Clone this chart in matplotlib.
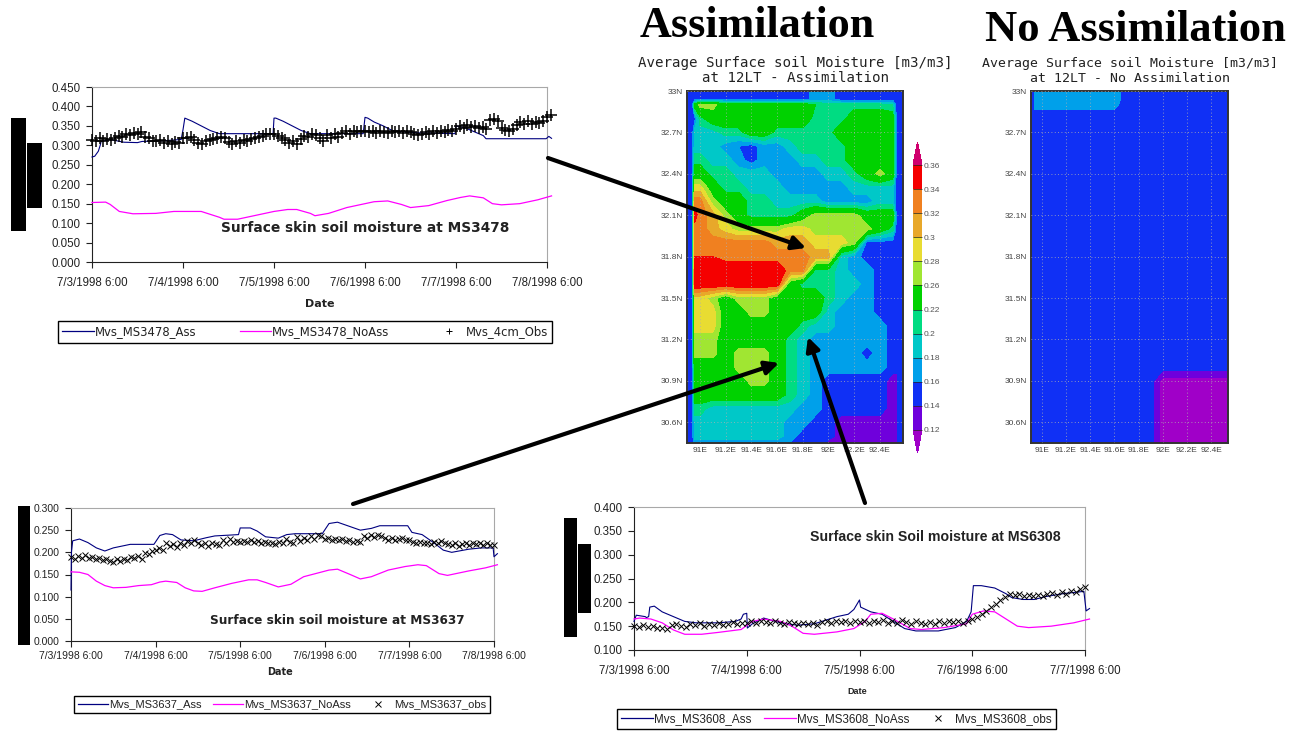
# -*- coding: utf-8 -*-

import numpy as np
import matplotlib
matplotlib.use("Agg")
import matplotlib.pyplot as plt
from matplotlib.colors import ListedColormap, BoundaryNorm
from matplotlib.lines import Line2D
from matplotlib.patches import Rectangle

plt.rcParams["font.family"] = ["Liberation Sans", "DejaVu Sans"]

W = 1291
H = 733

# line charts ------------------------------------------------------------------
date_labels = ["7/3/1998 6:00", "7/4/1998 6:00", "7/5/1998 6:00",
               "7/6/1998 6:00", "7/7/1998 6:00", "7/8/1998 6:00"]

ms3478_ass_day = [0, .03, .07, .09, .1, .2, .35, .5, .55, .8, .98, 1.0, 1.02, 1.1, 1.2, 1.3, 1.4, 1.8, 1.99,
                  2.0, 2.02, 2.1, 2.2, 2.3, 2.4, 2.98, 3.0, 3.03, 3.1, 3.2, 3.3, 3.4, 3.6, 3.99, 4.0, 4.1,
                  4.2, 4.3, 4.33, 4.99, 5.02, 5.05]
ms3478_ass = [.27, .272, .285, .30, .31, .315, .308, .307, .31, .312, .315, .34, .37, .362, .35, .338, .33, .33, .33,
              .37, .37, .362, .35, .338, .33, .33, .372, .37, .36, .35, .338, .335, .332, .33, .35, .345,
              .335, .325, .317, .317, .323, .318]
ms3478_noass_day = [0, .15, .2, .3, .45, .7, .9, 1.2, 1.4, 1.45, 1.6, 1.8, 2.0, 2.15, 2.25, 2.4, 2.45, 2.6, 2.8, 3.0,
                    3.1, 3.25, 3.4, 3.5, 3.7, 3.9, 4.05, 4.15, 4.3, 4.4, 4.5, 4.7, 4.9, 5.05]
ms3478_noass = [.153, .154, .148, .13, .124, .125, .13, .13, .115, .11, .11, .12, .13, .135, .135, .125, .119, .125,
                .14, .15, .155, .157, .148, .14, .145, .158, .166, .17, .165, .15, .147, .15, .16, .17]
ms3478_obs = [.315, .312, .318, .310, .316, .313, .320, .324, .322, .330, .326, .332,
              .328, .335, .322, .318, .312, .310, .314, .306, .310, .304, .309, .306,
              .320, .318, .322, .315, .305, .303, .310, .313, .316, .319, .322, .318,
              .308, .303, .310, .306, .313, .310, .316, .318, .321, .325, .328, .330,
              .330, .325, .318, .313, .306, .310, .304, .316, .325, .322, .330, .326,
              .320, .312, .326, .318, .330, .322, .332, .336, .330, .338, .334, .336,
              .338, .334, .336, .332, .338, .335, .332, .337, .334, .336, .333, .337,
              .335, .330, .326, .330, .334, .328, .336, .332, .338, .334, .340, .336,
              .342, .350, .345, .352, .346, .350, .344, .348, .342, .365, .368, .362,
              .345, .340, .336, .342, .352, .360, .356, .362, .356, .360, .358, .362,
              .372, .378]

ms3637_ass_day = [0, .005, .02, .1, .2, .3, .4, .5, .7, .98, 1.05, 1.12, 1.2, 1.3, 1.45, 1.6, 1.7, 1.98, 2.0, 2.12,
                  2.2, 2.3, 2.45, 2.55, 2.65, 2.97, 3.05, 3.15, 3.3, 3.42, 3.55, 3.65, 3.98, 4.03, 4.15, 4.3,
                  4.4, 4.5, 4.7, 4.85, 4.99, 5.0, 5.04]
ms3637_ass = [.115, .20, .226, .23, .222, .21, .203, .21, .218, .218, .238, .242, .24, .228, .226, .233, .237, .24,
              .255, .255, .248, .235, .232, .24, .242, .242, .265, .268, .258, .25, .254, .26, .26, .245, .24,
              .22, .205, .2, .207, .21, .21, .19, .197]
ms3637_noass_day = [0, .1, .2, .3, .4, .5, .65, .8, .95, 1.05, 1.12, 1.25, 1.35, 1.45, 1.55, 1.7, 1.9, 2.1, 2.2, 2.3,
                    2.45, 2.6, 2.75, 2.95, 3.05, 3.15, 3.3, 3.42, 3.55, 3.75, 3.95, 4.1, 4.2, 4.35, 4.45, 4.7,
                    4.9, 5.04]
ms3637_noass = [.156, .155, .15, .135, .125, .12, .121, .125, .127, .133, .135, .132, .12, .113, .112, .12, .13, .138,
                .138, .132, .122, .128, .145, .155, .16, .162, .15, .14, .145, .16, .168, .172, .17, .152, .148,
                .158, .165, .172]
ms3637_obs = [.190, .186, .192, .188, .193, .187, .190, .185, .188, .183, .186, .180,
              .178, .185, .180, .186, .183, .190, .188, .192, .186, .198, .196, .203,
              .206, .210, .205, .222, .215, .218, .212, .220, .216, .225, .220, .228,
              .222, .216, .222, .214, .220, .218, .216, .228, .222, .230, .224, .226,
              .224, .226, .223, .228, .224, .226, .222, .224, .220, .222, .218, .224,
              .220, .230, .224, .222, .234, .226, .232, .228, .236, .230, .238, .236,
              .230, .232, .228, .230, .227, .230, .225, .228, .224, .226, .224, .236,
              .232, .240, .234, .240, .236, .232, .228, .232, .228, .231, .233, .228,
              .228, .224, .220, .224, .220, .222, .218, .224, .220, .226, .220, .218,
              .216, .220, .215, .218, .222, .216, .220, .218, .222, .216, .220, .217,
              .216]

ms3608_ass_day = [0, .02, .1, .11, .13, .14, .18, .25, .35, .45, .55, .75, .9, .95, .97, 1.0, 1.005, 1.05, 1.15, 1.3,
                  1.45, 1.6, 1.8, 1.9, 1.95, 2.0, 2.01, 2.1, 2.2, 2.3, 2.4, 2.5, 2.7, 2.85, 2.95, 2.99, 3.01,
                  3.08, 3.2, 3.3, 3.35, 3.45, 3.55, 3.65, 3.8, 3.99, 4.01, 4.04]
ms3608_ass = [.16, .173, .17, .168, .17, .19, .192, .18, .17, .16, .157, .157, .16, .165, .175, .177, .146, .155,
              .167, .157, .152, .155, .17, .175, .185, .205, .19, .18, .175, .16, .145, .14, .14, .147, .16, .18,
              .235, .235, .23, .218, .21, .206, .206, .212, .218, .223, .182, .187]
ms3608_noass_day = [0, .05, .15, .25, .35, .45, .6, .75, .95, 1.05, 1.15, 1.3, 1.4, 1.5, 1.6, 1.8, 1.95, 2.05, 2.1,
                    2.2, 2.3, 2.45, 2.55, 2.75, 2.95, 3.0, 3.1, 3.2, 3.3, 3.4, 3.5, 3.7, 3.9, 4.04]
ms3608_noass = [.165, .167, .165, .157, .142, .133, .133, .137, .143, .16, .165, .16, .15, .135, .133, .138, .145,
                .16, .175, .177, .165, .145, .143, .147, .155, .175, .182, .18, .165, .15, .147, .15, .157, .165]
ms3608_obs = [.150, .148, .152, .148, .150, .147, .146, .144, .152, .155, .150, .148,
              .155, .152, .156, .150, .154, .152, .156, .152, .155, .158, .154, .157,
              .156, .160, .157, .160, .158, .156, .160, .157, .155, .158, .156, .154,
              .157, .154, .156, .153, .158, .160, .157, .161, .158, .160, .156, .160,
              .158, .161, .157, .160, .158, .162, .157, .160, .156, .162, .158, .155,
              .160, .156, .154, .158, .155, .160, .157, .161, .158, .160, .156, .160,
              .165, .170, .175, .182, .190, .197, .205, .212, .218, .216, .218, .214,
              .216, .213, .216, .214, .218, .220, .216, .222, .218, .224, .222, .228,
              .232]

# maps, moisture in 1/100 m3/m3 -------------------------------------------------
map_lon = [90.94, 90.96, 91.0, 91.1, 91.2, 91.3, 91.4, 91.5, 91.6, 91.7, 91.8, 91.9, 92.0, 92.1, 92.2, 92.3, 92.4,
           92.5, 92.53]
map_lat = [33.0, 32.94, 32.9, 32.8, 32.7, 32.6, 32.5, 32.4, 32.3, 32.2, 32.1, 32.0, 31.9, 31.8, 31.7,
           31.6, 31.5, 31.4, 31.3, 31.2, 31.1, 31.0, 30.9, 30.8, 30.7, 30.6, 30.5, 30.4]
assim = [
    [15, 15, 15, 15, 15, 15, 15, 15, 15, 15, 15, 17, 17, 15, 15, 15, 15, 15, 15],
    [15, 15, 15, 15, 15, 15, 15, 15, 15, 15, 15, 17, 17, 15, 15, 15, 15, 15, 15],
    [15, 24, 27, 27, 24, 24, 24, 24, 24, 24, 24, 22, 21, 21, 21, 21, 21, 20, 15],
    [15, 15, 21, 24, 24, 24, 24, 24, 24, 24, 24, 21, 21, 21, 24, 24, 24, 24, 15],
    [15, 19, 19, 19, 21, 21, 24, 24, 21, 21, 21, 21, 21, 24, 24, 24, 24, 24, 15],
    [15, 19, 19, 19, 17, 16, 15, 17, 17, 19, 21, 21, 21, 21, 24, 24, 24, 24, 15],
    [15, 21, 21, 19, 19, 17, 15, 17, 17, 17, 19, 19, 21, 21, 24, 24, 24, 24, 15],
    [15, 24, 24, 21, 21, 19, 19, 19, 17, 17, 17, 17, 19, 19, 21, 24, 27, 24, 15],
    [15, 29, 29, 24, 21, 21, 19, 19, 19, 17, 17, 17, 17, 17, 19, 19, 19, 19, 15],
    [15, 33, 33, 27, 24, 24, 21, 21, 19, 19, 19, 19, 17, 17, 17, 17, 19, 19, 15],
    [15, 35, 33, 31, 27, 24, 21, 21, 21, 21, 24, 27, 27, 27, 27, 24, 24, 24, 15],
    [15, 33, 33, 31, 29, 27, 27, 27, 27, 29, 29, 27, 27, 27, 27, 27, 24, 21, 15],
    [15, 34, 33, 33, 33, 33, 33, 33, 31, 31, 31, 29, 29, 29, 27, 15, 15, 15, 15],
    [15, 34, 34, 34, 33, 33, 33, 33, 33, 33, 33, 31, 31, 19, 17, 15, 15, 15, 15],
    [15, 35.9, 35.9, 35.9, 35.9, 35.9, 35.9, 35.9, 35.9, 33, 33, 21, 21, 19, 17, 17, 15, 15, 15],
    [15, 35.9, 35.9, 35.9, 35.9, 35.9, 35.9, 35.9, 35.9, 24, 21, 21, 21, 19, 19, 17, 15, 15, 15],
    [15, 29, 29, 27, 24, 27, 27, 27, 24, 24, 24, 24, 21, 19, 17, 17, 15, 15, 15],
    [15, 29, 29, 29, 24, 24, 27, 27, 24, 24, 24, 24, 19, 17, 17, 17, 15, 15, 15],
    [15, 29, 29, 29, 24, 24, 24, 24, 24, 24, 21, 19, 19, 17, 17, 17, 17, 15, 15],
    [15, 27, 27, 27, 24, 24, 24, 24, 24, 21, 19, 17, 17, 17, 17, 17, 17, 15, 15],
    [15, 27, 27, 27, 24, 27, 27, 27, 24, 21, 19, 17, 17, 17, 17, 15, 17, 15, 15],
    [15, 24, 24, 24, 24, 27, 27, 27, 24, 21, 19, 17, 17, 17, 17, 17, 17, 15, 15],
    [15, 24, 24, 24, 24, 24, 27, 27, 24, 21, 19, 17, 15, 15, 15, 15, 15, 13, 13],
    [15, 24, 24, 24, 24, 24, 24, 24, 24, 21, 19, 17, 15, 15, 15, 15, 15, 13, 13],
    [15, 21, 21, 19, 19, 19, 19, 19, 19, 19, 17, 17, 15, 15, 15, 15, 15, 13, 13],
    [15, 19, 19, 19, 19, 19, 19, 19, 19, 17, 17, 15, 15, 13, 13, 13, 13, 13, 13],
    [15, 19, 19, 19, 19, 19, 19, 19, 19, 17, 15, 15, 15, 13, 13, 13, 13, 13, 13],
    [15, 15, 15, 15, 15, 15, 15, 15, 15, 15, 15, 15, 11, 11, 11, 11, 11, 13, 13],
]
no_assim_blue = [15, 15, 15, 15, 15, 15, 15, 15, 15, 15, 15, 15, 15, 15, 15, 15, 15, 15, 15]
no_assim_cyan = [17, 17, 17, 17, 17, 17, 17, 17, 17, 15, 15, 15, 15, 15, 15, 15, 15, 15, 15]
no_assim_cyan2 = [16.5, 16.5, 16.5, 16.5, 16.5, 16.5, 16.5, 16.5, 16.5, 15, 15, 15, 15, 15, 15, 15, 15, 15, 15]
no_assim_purple = [15, 15, 15, 15, 15, 15, 15, 15, 15, 15, 15, 15, 11, 11, 11, 11, 11, 11, 11]
no_assim = [no_assim_cyan, no_assim_cyan, no_assim_cyan2] + [no_assim_blue] * 19 + [no_assim_purple] * 6

levels = [.12, .14, .16, .18, .20, .22, .26, .28, .30, .32, .34, .36]
level_labels = ["0.12", "0.14", "0.16", "0.18", "0.2", "0.22", "0.26", "0.28", "0.3", "0.32", "0.34", "0.36"]
band_colors = ["#6f00dc", "#1030f5", "#00a0ea", "#00c8c8", "#00dc82", "#00d200",
               "#a0e632", "#e8dc32", "#e8a82a", "#f08020", "#f50000"]
under_color = "#a000c8"
over_color = "#d0006e"
lon_ticks = [91, 91.2, 91.4, 91.6, 91.8, 92, 92.2, 92.4]
lon_labels = ["91E", "91.2E", "91.4E", "91.6E", "91.8E", "92E", "92.2E", "92.4E"]
lat_ticks = [30.6, 30.9, 31.2, 31.5, 31.8, 32.1, 32.4, 32.7, 33]
lat_labels = ["30.6N", "30.9N", "31.2N", "31.5N", "31.8N", "32.1N", "32.4N", "32.7N", "33N"]

ASS_COLOR = "#000080"
NOASS_COLOR = "#ff00ff"
TEXT_COLOR = "#222222"


def px_axes(fig, left, top, right, bottom):
    return fig.add_axes([left / W, 1 - bottom / H, (right - left) / W, (bottom - top) / H])


def fig_box(left, top, right, bottom):
    return (left / W, 1 - bottom / H, (right - left) / W, (bottom - top) / H)


def put_text(x, y, s, size, family="Liberation Sans", weight="bold", color=TEXT_COLOR):
    fig.text(x / W, 1 - y / H, s, ha="center", va="center", fontsize=size, fontweight=weight,
             family=family, color=color)


def line_chart(fig, box, ass, noass, obs, days, ylim, ystep, marker, ms, mew, fs, xpad):
    ax = px_axes(fig, *box)
    ax.plot(ass[0], ass[1], color=ASS_COLOR, lw=0.8, clip_on=False, zorder=3)
    ax.plot(noass[0], noass[1], color=NOASS_COLOR, lw=0.9, clip_on=False, zorder=3)
    xobs = np.arange(len(obs)) / 24
    ax.plot(xobs, obs, ls="none", marker=marker, ms=ms, mew=mew, color="black", clip_on=False, zorder=4)
    ax.set_xlim(0, days)
    ax.set_ylim(*ylim)
    ax.set_yticks(np.arange(ylim[0], ylim[1] + ystep / 2, ystep))
    ax.yaxis.set_major_formatter("{x:.3f}")
    ax.set_xticks(range(days + 1))
    ax.set_xticklabels(date_labels[:days + 1])
    ax.tick_params(labelsize=fs, length=4, width=0.8, color=TEXT_COLOR, labelcolor=TEXT_COLOR, pad=4)
    ax.tick_params(axis="x", pad=xpad)
    for s in ["top", "right"]:
        ax.spines[s].set_color("#a8a8a8")
    for s in ["left", "bottom"]:
        ax.spines[s].set_color(TEXT_COLOR)
    handles = [Line2D([], [], color=ASS_COLOR, lw=0.9),
               Line2D([], [], color=NOASS_COLOR, lw=0.9),
               Line2D([], [], ls="none", marker=marker, ms=5, mew=0.7, color="black")]
    return ax, handles


def add_legend(fig, handles, names, box, family, fs):
    leg = fig.legend(handles, names, loc="center", bbox_to_anchor=fig_box(*box), mode="expand", ncol=3,
                     prop=dict(family=family, size=fs), fancybox=False, edgecolor="black", framealpha=1,
                     handlelength=2.7, handletextpad=0.1, borderpad=0.35, columnspacing=0.5,
                     borderaxespad=0, labelcolor=TEXT_COLOR)
    leg.get_frame().set_linewidth(1.0)


def moisture_map(fig, box, field, xlim):
    ax = px_axes(fig, *box)
    ax.set_facecolor(band_colors[1])
    cmap = ListedColormap(band_colors)
    cmap.set_under(under_color)
    cmap.set_over(over_color)
    norm = BoundaryNorm(levels, cmap.N)
    cs = ax.contourf(map_lon, map_lat, np.array(field) / 100, levels=levels, cmap=cmap, norm=norm, extend="both")
    ax.set_xlim(*xlim)
    ax.set_ylim(30.45, 33)
    ax.set_xticks(lon_ticks)
    ax.set_xticklabels(lon_labels)
    ax.set_yticks(lat_ticks)
    ax.set_yticklabels(lat_labels)
    ax.tick_params(labelsize=6, length=0, pad=3, labelcolor="#444444")
    ax.grid(True, color="#b0b0b0", lw=0.6, ls=(0, (1, 3)))
    ax.set_axisbelow(False)
    for s in ax.spines.values():
        s.set_color("#333333")
        s.set_linewidth(1.4)
    return cs


fig = plt.figure(figsize=(W / 100, H / 100), dpi=100, facecolor="white")

# upper left chart
ax1, h1 = line_chart(fig, (92, 87, 547, 262), (ms3478_ass_day, ms3478_ass), (ms3478_noass_day, ms3478_noass),
                     ms3478_obs, 5, (0, .45), .05, "+", 8, 1.1, 8.3, 7)
add_legend(fig, h1, ["Mvs_MS3478_Ass", "Mvs_MS3478_NoAss", "Mvs_4cm_Obs"], (58, 321, 552, 343), "DejaVu Sans", 8.4)
put_text(365, 228, "Surface skin soil moisture at MS3478", 9.9, "DejaVu Sans")
put_text(320, 304, "Date", 8, "DejaVu Sans")

# lower left chart
ax2, h2 = line_chart(fig, (71, 508, 494, 641), (ms3637_ass_day, ms3637_ass), (ms3637_noass_day, ms3637_noass),
                     ms3637_obs, 5, (0, .30), .05, "x", 4.5, 0.7, 7.5, 3)
add_legend(fig, h2, ["Mvs_MS3637_Ass", "Mvs_MS3637_NoAss", "Mvs_MS3637_obs"], (74, 695, 490, 714),
           "Liberation Sans", 8)
put_text(337, 621, "Surface skin soil moisture at MS3637", 8.7, "DejaVu Sans")
put_text(280, 672, "Date", 7, "DejaVu Sans")

# lower right chart
ax3, h3 = line_chart(fig, (634, 507, 1085, 650), (ms3608_ass_day, ms3608_ass), (ms3608_noass_day, ms3608_noass),
                     ms3608_obs, 4, (.1, .40), .05, "x", 5, 0.7, 8.3, 7)
add_legend(fig, h3, ["Mvs_MS3608_Ass", "Mvs_MS3608_NoAss", "Mvs_MS3608_obs"], (617, 707, 1056, 731),
           "Liberation Sans", 8.4)
put_text(935, 537, "Surface skin Soil moisture at MS6308", 10.2)
put_text(857, 691, "Date", 6.5)

# maps
cs = moisture_map(fig, (687, 91, 903, 443), assim, (90.9, 92.58))
moisture_map(fig, (1031, 91, 1228, 443), no_assim, (90.91, 92.54))

cax = px_axes(fig, 913, 142, 922, 453)
cb = fig.colorbar(cs, cax=cax, spacing="uniform", extendfrac=23 / 265, drawedges=True)
cb.set_ticks(levels)
cb.set_ticklabels(level_labels)
cb.ax.tick_params(labelsize=6, length=0, pad=1, labelcolor="#555555")
cb.outline.set_visible(False)
cb.dividers.set_color(TEXT_COLOR)
cb.dividers.set_linewidth(0.5)

# headings
put_text(757, 26, "Assimilation", 31.8, "Liberation Serif", color="black")
put_text(1135, 30, "No Assimilation", 32, "Liberation Serif", color="black")
put_text(795, 63, "Average Surface soil Moisture [m3/m3]", 10.2, "DejaVu Sans Mono", "normal")
put_text(796, 78, "at 12LT - Assimilation", 10.2, "DejaVu Sans Mono", "normal")
put_text(1130, 63, "Average Surface soil Moisture [m3/m3]", 9.5, "DejaVu Sans Mono", "normal")
put_text(1130, 78, "at 12LT - No Assimilation", 9.5, "DejaVu Sans Mono", "normal")

# overlay for the black bars and arrows, in picture pixels
over = fig.add_axes([0, 0, 1, 1], zorder=10)
over.set_xlim(0, W)
over.set_ylim(H, 0)
over.axis("off")
bars = [(11, 118, 15, 113), (27, 143, 15, 65), (18, 506, 12, 139), (564, 518, 13, 119), (578, 544, 13, 69)]
for x, y, w, h in bars:
    over.add_patch(Rectangle((x, y), w, h, color="black", lw=0))
arrows = [((548, 158), (806, 248)), ((353, 504), (779, 363)), ((865, 503), (808, 337))]
for start, end in arrows:
    over.annotate("", xy=end, xytext=start,
                  arrowprops=dict(arrowstyle="-|>", color="black", lw=3, mutation_scale=20, shrinkA=0, shrinkB=0))

fig.savefig("out.png", dpi=100)
